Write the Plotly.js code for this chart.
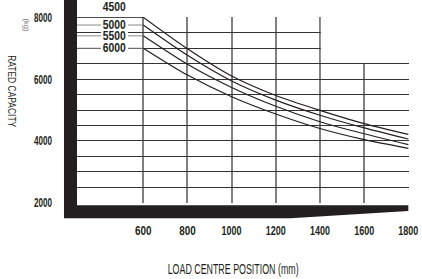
<!DOCTYPE html>
<html>
<head>
<meta charset="utf-8">
<script src="https://cdn.plot.ly/plotly-3.0.1.min.js"></script>
<style>html,body{margin:0;padding:0;background:#fff;}#chart{width:422px;height:279px;}</style>
</head>
<body>
<div id="chart"></div>
<script>
// Load centre positions (mm)
const loadCentres = [600, 800, 1000, 1200, 1400, 1600, 1800];
// Lift heights (mm) – one curve per height
const liftHeights = ['4500', '5000', '5500', '6000'];
// Rated capacity (kg)
const cap4500 = [8000, 6980, 6100, 5470, 4990, 4560, 4210];
const cap5000 = [7750, 6770, 5940, 5320, 4830, 4420, 4060];
const cap5500 = [7400, 6480, 5730, 5120, 4620, 4230, 3880];
const cap6000 = [7000, 6130, 5430, 4870, 4400, 4040, 3760];
const series = [cap4500, cap5000, cap5500, cap6000];

const xTickVals = [600, 800, 1000, 1200, 1400, 1600, 1800];
const yTickVals = [2000, 2500, 3000, 3500, 4000, 4500, 5000, 5500, 6000, 6500, 7000, 7500, 8000];
const yTickText = ['2000', '', '', '', '4000', '', '', '', '6000', '', '', '', '8000'];

const X0 = 300, X1 = 1803, Y0 = 1990, Y1 = 8010;
const INK = '#231f20';
const FONT = "'Liberation Sans', Arial, sans-serif";

const traces = [];
// leader lines from the left edge to each curve start
series.forEach((s, i) => {
  traces.push({
    x: [X0, loadCentres[0]], y: [s[0], s[0]], mode: 'lines',
    line: {color: i === 0 ? INK : '#8a8a8a', width: 1}, hoverinfo: 'skip', showlegend: false
  });
});
series.forEach((s, i) => {
  traces.push({
    x: loadCentres, y: s, mode: 'lines', name: liftHeights[i],
    line: {color: INK, width: 1.2, shape: 'spline', smoothing: 0.8},
    showlegend: false
  });
});

const annotations = series.map((s, i) => (i === 0 ? {
  x: 0.113, y: 1.052, xref: 'paper', yref: 'paper', xanchor: 'center', yanchor: 'middle',
  text: liftHeights[i], showarrow: false,
  font: {family: FONT, size: 12, color: INK, weight: 'bold'}
} : {
  x: 470, y: s[0], xref: 'x', yref: 'y', xanchor: 'center', yanchor: 'middle',
  text: liftHeights[i], showarrow: false,
  font: {family: FONT, size: 12, color: INK, weight: 'bold'},
  bgcolor: '#ffffff', borderpad: 0
}));
annotations.push({
  x: -0.197, y: 0.601, xref: 'paper', yref: 'paper', xanchor: 'center', yanchor: 'middle',
  text: 'RATED CAPACITY', textangle: 90, showarrow: false,
  font: {family: FONT, size: 10, color: INK}
});
annotations.push({
  x: -0.151, y: 0.955, xref: 'paper', yref: 'paper', xanchor: 'center', yanchor: 'middle',
  text: '(kg)', textangle: 90, showarrow: false,
  font: {family: FONT, size: 7.5, color: '#777'}
});
annotations.push({
  x: 0.469, y: -0.357, xref: 'paper', yref: 'paper', xanchor: 'center', yanchor: 'middle',
  text: 'LOAD CENTRE POSITION (mm)', showarrow: false,
  font: {family: FONT, size: 14.5, color: INK}
});

const shapes = [
  // blank out the grid above 6500 kg beyond 1400 mm
  {type: 'rect', xref: 'x', yref: 'y', x0: 1404, x1: 1830, y0: 6520, y1: 8300,
   fillcolor: '#ffffff', line: {width: 0}, layer: 'between'},
  // heavy black frame (left post and tapered base)
  {type: 'path', xref: 'paper', yref: 'paper',
   path: 'M -0.0392,1.1 L 0,1.1 L 0,-0.0124 L 0.998,-0.0124 L 0.998,-0.043 L 0.643,-0.0824 L -0.0392,-0.0824 Z',
   fillcolor: INK, line: {width: 0}, layer: 'above'}
];

const layout = {
  width: 422, height: 279,
  margin: {l: 77, r: 13, t: 16.7, b: 76},
  paper_bgcolor: '#ffffff', plot_bgcolor: '#ffffff',
  showlegend: false,
  xaxis: {
    range: [X0, X1], tickvals: xTickVals, ticktext: xTickVals.map(String),
    showgrid: true, gridcolor: '#808080', gridwidth: 2, zeroline: false, showline: false,
    ticks: '', ticklabelstandoff: 18, ticklabeloverflow: 'allow',
    tickfont: {family: FONT, size: 12.5, color: INK, weight: 'bold'}
  },
  yaxis: {
    range: [Y0, Y1], tickvals: yTickVals, ticktext: yTickText,
    showgrid: true, gridcolor: '#333', gridwidth: 1, zeroline: false, showline: false,
    ticks: '', ticklabelstandoff: 24,
    tickfont: {family: FONT, size: 13, color: INK, weight: 'bold'}
  },
  annotations: annotations,
  shapes: shapes
};

// condense the lettering the way the printed chart does
function condense(el, width) {
  el.setAttribute('textLength', width);
  el.setAttribute('lengthAdjust', 'spacingAndGlyphs');
}

Plotly.newPlot('chart', traces, layout, {displayModeBar: false, staticPlot: true}).then(gd => {
  gd.querySelectorAll('.xtick text').forEach(t => {
    const s = t.textContent.trim();
    if (s) condense(t, s.length === 3 ? 16.5 : 20);
  });
  gd.querySelectorAll('.ytick text').forEach(t => {
    if (t.textContent.trim()) condense(t, 18);
  });
  const widths = {'RATED CAPACITY': 72, '(kg)': 13, 'LOAD CENTRE POSITION (mm)': 131};
  liftHeights.forEach(h => { widths[h] = 23; });
  gd.querySelectorAll('.annotation').forEach(a => {
    const t = a.querySelector('text.annotation-text');
    if (!t) return;
    const s = t.textContent.trim();
    if (!(s in widths)) return;
    condense(t, widths[s]);
    const bg = a.querySelector('rect.bg');
    if (bg && liftHeights.includes(s)) {
      const w = parseFloat(bg.getAttribute('width'));
      const h = parseFloat(bg.getAttribute('height'));
      const x = parseFloat(bg.getAttribute('x')) || 0;
      const y = parseFloat(bg.getAttribute('y')) || 0;
      const nw = widths[s] + 4, nh = 10;
      bg.setAttribute('x', x + (w - nw) / 2);
      bg.setAttribute('y', y + (h - nh) / 2);
      bg.setAttribute('width', nw);
      bg.setAttribute('height', nh);
    }
  });
});
</script>
</body>
</html>
